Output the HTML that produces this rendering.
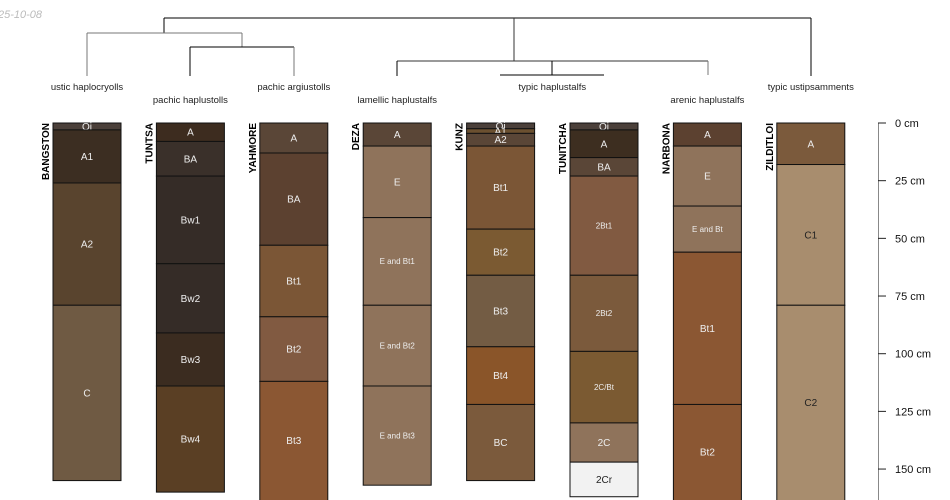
<!DOCTYPE html>
<html><head><meta charset="utf-8"><style>
body{margin:0;background:#fff;}
svg{display:block;font-family:"Liberation Sans",sans-serif;}
</style></head><body>
<svg id="c" width="950" height="500"></svg>
<script>
const profileIds=["BANGSTON","TUNTSA","YAHMORE","DEZA","KUNZ","TUNITCHA","NARBONA","ZILDITLOI"];
const taxa=["ustic haplocryolls","pachic haplustolls","pachic argiustolls","lamellic haplustalfs","typic haplustalfs","arenic haplustalfs","typic ustipsamments"];
const taxaPos=[0,1,2,3,4.5,6,7];
const hzNames=[
["Oi","A1","A2","C"],
["A","BA","Bw1","Bw2","Bw3","Bw4"],
["A","BA","Bt1","Bt2","Bt3"],
["A","E","E and Bt1","E and Bt2","E and Bt3"],
["Oi","A1","A2","Bt1","Bt2","Bt3","Bt4","BC"],
["Oi","A","BA","2Bt1","2Bt2","2C/Bt","2C","2Cr"],
["A","E","E and Bt","Bt1","Bt2"],
["A","C1","C2"]];
const hzDepths=[
[0,3,26,79,155],
[0,8,23,61,91,114,160],
[0,13,53,84,112,170],
[0,10,41,79,114,157],
[0,2.5,4.5,10,46,66,97,122,155],
[0,3,15,23,66,99,130,147,162],
[0,10,36,56,122,170],
[0,18,79,170]];
const hzColors=[
["#4b403a","#3c2e22","#59442e","#6f5a43"],
["#3d2c1f","#3a302a","#352c27","#352c27","#3b2c20","#5a3f24"],
["#5a4637","#5c4130","#7b5636","#815a41","#8b5733"],
["#5a4637","#8f735b","#8f735b","#8f735b","#8f735b"],
["#4b403a","#6b5030","#5a4637","#7b5636","#7b5a32","#735c44","#8a5529","#7b5a3c"],
["#4b403a","#3d2e20","#5a4637","#815a41","#7b5a3c","#7b5a32","#8f735b","#f2f2f2"],
["#5c4130","#8f735b","#8f735b","#8b5733","#8b5733"],
["#7b5a3c","#a88d6e","#a88d6e"]];
const depthTicks=[0,25,50,75,100,125,150];

const svg=document.getElementById('c');
const NS="http://www.w3.org/2000/svg";
function mk(t,a,p){const e=document.createElementNS(NS,t);for(const k in a)e.setAttribute(k,a[k]);(p||svg).appendChild(e);return e;}
const y=d=>123+d*2.307;
const xc=i=>87+i*103.4;
const W=68;

let ds=mk('text',{x:-2,y:18,'font-size':11,'font-style':'italic',fill:'#bbb'});ds.textContent="25-10-08";



const dg=mk('g',{fill:'none','stroke-width':1});


const segs=[
[164,18,811,18,'#000'],[164,18,164,33,'#000'],
[87,33,242,33,'#777'],[87,33,87,76,'#777'],[242,33,242,47,'#777'],
[190,47,294,47,'#000'],[190,47,190,76,'#000'],[294,47,294,76,'#777'],
[514,18,514,61,'#333'],[397,61,708,61,'#333'],[397,61,397,76,'#000'],[708,61,708,75,'#777'],
[552,61,552,75,'#000'],[500,75,604,75,'#000'],[811,18,811,76,'#000']];
segs.forEach(s=>mk('line',{x1:s[0],y1:s[1],x2:s[2],y2:s[3],stroke:s[4]},dg));

taxa.forEach((n,k)=>{
  const tl=mk('text',{x:xc(taxaPos[k]),y:k%2?103:90,'font-size':9.5,'text-anchor':'middle',fill:'#222'});
  tl.textContent=n;
  
  
});

profileIds.forEach((id,i)=>{
  const g=mk('g',{});
  
  
  const cx=xc(i),x0=cx-W/2;
  const d=hzDepths[i];
  hzNames[i].forEach((n,j)=>{
    const t=y(d[j]),b=Math.min(y(d[j+1]),502);
    const r=mk('rect',{x:x0,y:t,width:W,height:b-t,fill:hzColors[i][j],stroke:'#111','stroke-width':1},g);
    
    
    const light=['#a88d6e','#f2f2f2'].includes(hzColors[i][j]);
    const fs=n.length>3?8:10;
    const lt=mk('text',{x:cx,y:(t+Math.min(b,500))/2+fs*0.35,'font-size':fs,'text-anchor':'middle',fill:light?'#222':'#eee'},g);
    lt.textContent=n;
    
    
  });
  const pl=mk('text',{x:0,y:0,'font-size':10,'font-weight':'bold','text-anchor':'end',fill:'#000',transform:`translate(${x0-4},${y(0)}) rotate(-90)`},g);
  pl.textContent=id;
  
  
});

const ax=mk('g',{});


mk('line',{x1:878.5,y1:y(0),x2:878.5,y2:500,stroke:'#888','stroke-width':1},ax);
depthTicks.forEach(v=>{
  mk('line',{x1:878,y1:y(v),x2:886,y2:y(v),stroke:'#222','stroke-width':1},ax);
  const t=mk('text',{x:895,y:y(v)+4,'font-size':11,fill:'#111'},ax);
  t.textContent=v+" cm";
  
  
});
</script>
</body></html>
